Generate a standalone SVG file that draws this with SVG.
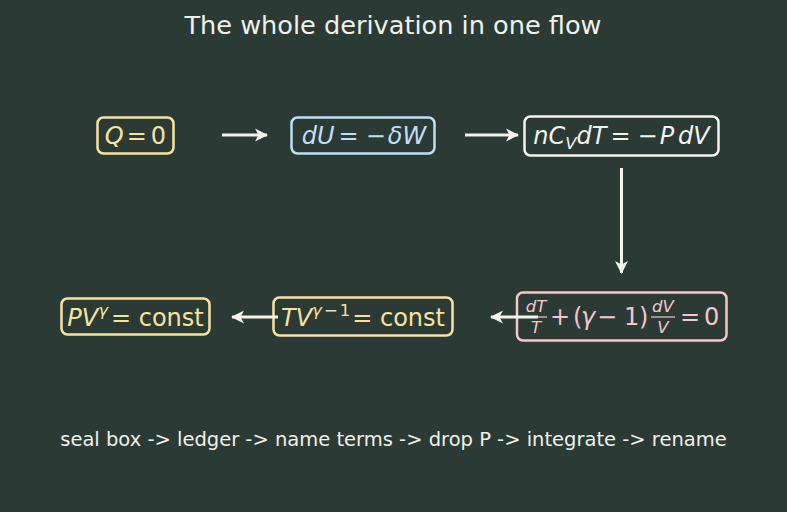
<svg xmlns="http://www.w3.org/2000/svg" width="787" height="512" viewBox="0 0 787 512">
<defs>
<style>
.bg{fill:#2b3a35}
.box{fill:none;stroke-width:2.5}
.title{font-family:"DejaVu Sans",sans-serif;font-size:25.6px;fill:#eef2ea}
.note{font-family:"DejaVu Sans",sans-serif;font-size:19.5px;fill:#eef2ea}
.m{font-family:"DejaVu Sans",sans-serif;font-size:24px}
.i{font-style:italic}
.s{font-size:16.5px}
.y{fill:#f7e3a1}.ys{stroke:#f7e3a1}
.b{fill:#c2def4}.bs{stroke:#c2def4}
.w{fill:#f2f3ec}.ws{stroke:#f2f3ec}
.p{fill:#f5c6cc}.ps{stroke:#f5c6cc}
.arr{stroke:#f2f3ec;stroke-width:3;fill:none;marker-end:url(#ah)}
</style>
<marker id="ah" markerUnits="userSpaceOnUse" markerWidth="16" markerHeight="16" refX="13" refY="8" orient="auto">
<path d="M1,1.5 L14,8 L1,14.5 L4.5,8 Z" fill="#f2f3ec"/>
</marker>
</defs>
<rect class="bg" x="0" y="0" width="787" height="512"/>
<text class="title" x="393" y="34" text-anchor="middle">The whole derivation in one flow</text>

<g id="node-q0">
<rect class="box ys" x="97.5" y="117.5" width="76" height="36" rx="6"/>
<text class="m y" x="135.5" y="144" text-anchor="middle"><tspan class="i">Q</tspan><tspan dx="3">=</tspan><tspan dx="4">0</tspan></text>
</g>

<g id="node-du">
<rect class="box bs" x="291.5" y="117.5" width="143" height="36" rx="6"/>
<text class="m b" x="364" y="144" text-anchor="middle"><tspan class="i">dU</tspan><tspan dx="4">=</tspan><tspan dx="7">−</tspan><tspan class="i" dx="2">δW</tspan></text>
</g>

<g id="node-ncv">
<rect class="box ws" x="524.5" y="116.5" width="194" height="39" rx="6"/>
<text class="m w" x="621.5" y="144" text-anchor="middle"><tspan class="i">nC</tspan><tspan class="i s" dy="5">V</tspan><tspan class="i" dy="-5">dT</tspan><tspan dx="4">=</tspan><tspan dx="7">−</tspan><tspan class="i" dx="2">P</tspan><tspan class="i" dx="4">dV</tspan></text>
</g>

<g id="node-diff">
<rect class="box ps" x="517" y="292.5" width="209.5" height="48" rx="6"/>
<text class="m s p i" x="536" y="312" text-anchor="middle">dT</text>
<line class="ps" x1="525" y1="317" x2="547" y2="317" stroke-width="1.2"/>
<text class="m s p i" x="536" y="333" text-anchor="middle">T</text>
<text class="m p" y="325"><tspan x="550">+</tspan><tspan x="573">(</tspan><tspan class="i" x="581">γ</tspan><tspan x="597">−</tspan><tspan x="624">1</tspan><tspan x="639">)</tspan></text>
<text class="m s p i" x="663" y="312" text-anchor="middle">dV</text>
<line class="ps" x1="651" y1="317" x2="675" y2="317" stroke-width="1.2"/>
<text class="m s p i" x="663" y="333" text-anchor="middle">V</text>
<text class="m p" y="325"><tspan x="680">=</tspan><tspan x="704">0</tspan></text>
</g>

<g id="node-tv">
<rect class="box ys" x="273.5" y="297.5" width="179" height="38" rx="6"/>
<text class="m y" x="363" y="326" text-anchor="middle"><tspan class="i">TV</tspan><tspan class="s" dy="-10"><tspan class="i">γ</tspan><tspan dx="2">−</tspan><tspan dx="2">1</tspan></tspan><tspan dy="10" dx="2">= const</tspan></text>
</g>

<g id="node-pv">
<rect class="box ys" x="61.5" y="298.5" width="148" height="36" rx="6"/>
<text class="m y" x="135.5" y="326" text-anchor="middle"><tspan class="i">PV</tspan><tspan class="i s" dy="-10">γ</tspan><tspan dy="10" dx="3">= const</tspan></text>
</g>

<g id="connectors">
<line class="arr" x1="222" y1="135" x2="267" y2="135"/>
<line class="arr" x1="465" y1="135" x2="518" y2="135"/>
<line class="arr" x1="621.5" y1="168" x2="621.5" y2="273"/>
<line class="arr" x1="538" y1="317" x2="491" y2="317"/>
<line class="arr" x1="278" y1="317" x2="232" y2="317"/>
</g>

<text class="note" x="393.5" y="446" text-anchor="middle">seal box -&gt; ledger -&gt; name terms -&gt; drop P -&gt; integrate -&gt; rename</text>
</svg>
